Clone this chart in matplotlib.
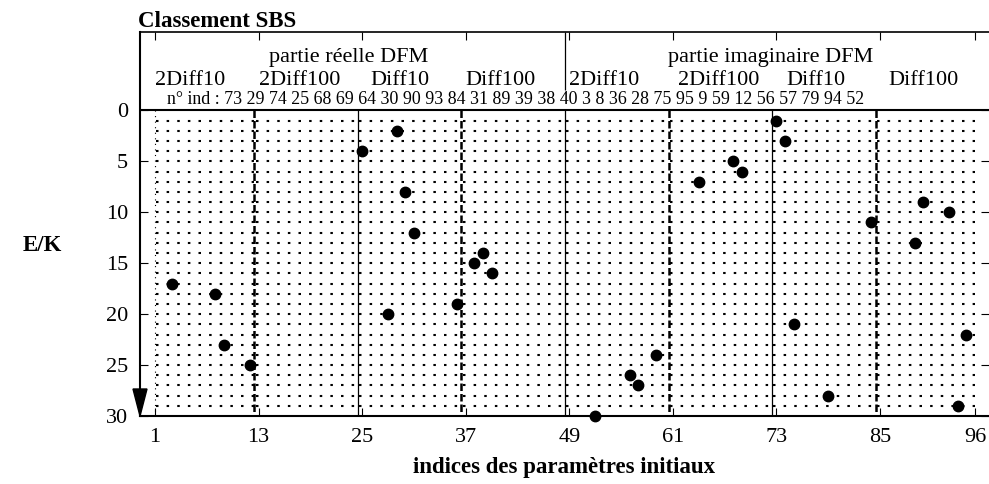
import matplotlib
matplotlib.use('Agg')
import matplotlib.pyplot as plt
from matplotlib.patches import Polygon

plt.rcParams['font.family'] = ['Liberation Serif', 'DejaVu Serif']

# rang E/K (1 = meilleur) et indice du parametre correspondant
rangs = [1, 2, 3, 4, 5, 6, 7, 8, 9, 10, 11, 12, 13, 14, 15,
         16, 17, 18, 19, 20, 21, 22, 23, 24, 25, 26, 27, 28, 29, 30]
indices = [73, 29, 74, 25, 68, 69, 64, 30, 90, 93, 84, 31, 89, 39, 38,
           40, 3, 8, 36, 28, 75, 95, 9, 59, 12, 56, 57, 79, 94, 52]

xticks = [1, 13, 25, 37, 49, 61, 73, 85, 96]
yticks = [0, 5, 10, 15, 20, 25, 30]
sep_pleines = [24.5, 48.5, 72.5]
sep_tirets = [12.5, 36.5, 60.5, 84.5]
groupes = ['2Diff10', '2Diff100', 'Diff10', 'Diff100',
           '2Diff10', '2Diff100', 'Diff10', 'Diff100']
groupes_x = [1, 13, 26, 37, 49, 61.6, 74.2, 86]
parties = ['partie réelle DFM', 'partie imaginaire DFM']
parties_x = [23.4, 72.3]

fig = plt.figure(figsize=(9.89, 4.84), dpi=100)
ax = fig.add_axes([140 / 989, 1 - 416 / 484, 849 / 989, 384 / 484])
ax.set_xlim(-0.74, 97.62)
ax.set_ylim(30, -7.7)

# grille pointillee, recommencee dans chaque bloc
bornes = [1] + sorted(sep_pleines + sep_tirets) + [96]
lignes = list(range(1, 30))
for a, b in zip(bornes[:-1], bornes[1:]):
    ax.hlines(lignes, a + 0.15, b, colors='black',
              linestyles=(0, (1.2, 3.9)), lw=1.5)
ax.vlines(1, 0, 30, colors='black', linestyles=(0, (1, 4)), lw=0.8)

ax.vlines(sep_pleines, 0, 30, colors='black', lw=0.9)
ax.vlines(sep_tirets, 0, 30, colors='black', linestyles=(0, (3, 1.2)), lw=1.8)
ax.vlines(48.5, -7.7, -2.0, colors='black', lw=0.9)
ax.axhline(0, color='black', lw=1.5)

ax.plot(indices, rangs, 'o', color='black', ms=7.5, clip_on=False, zorder=5)

# fleche du sens de l'axe E/K
ax.add_patch(Polygon([[-7 / 849, 27 / 384], [7 / 849, 27 / 384], [0, 0]],
                     closed=True, transform=ax.transAxes, color='black',
                     clip_on=False, zorder=6))

ax.set_xticks(xticks)
ax.set_yticks(yticks)
ax.tick_params(direction='in', length=5.5, width=0.8, top=True, right=True,
               labelsize=16)
ax.tick_params(axis='x', pad=8.5)
ax.tick_params(axis='y', pad=8.6)
ax.spines['right'].set_visible(False)
ax.spines['top'].set_linewidth(1.2)
ax.spines['left'].set_linewidth(1.5)
ax.spines['bottom'].set_linewidth(1.5)

# en-tete
for s, x in zip(parties, parties_x):
    ax.text(x, -4.78, s, ha='center', va='baseline', fontsize=16)
for s, x in zip(groupes, groupes_x):
    ax.text(x, -2.5, s, ha='left', va='baseline', fontsize=16)
ax.text(2.39, -0.61, 'n° ind : ' + ' '.join(str(i) for i in indices),
        ha='left', va='baseline', fontsize=12.9)

ax.set_xlabel('indices des paramètres initiaux', fontsize=16.5,
              fontweight='bold', labelpad=7)
fig.text(138 / 989, 1 - 26.7 / 484, 'Classement SBS', fontsize=16.5,
         fontweight='bold', va='baseline')
fig.text(42 / 989, 1 - 245 / 484, 'E/K', fontsize=16.5, fontweight='bold',
         ha='center', va='center')

fig.savefig('out.png', dpi=100)
